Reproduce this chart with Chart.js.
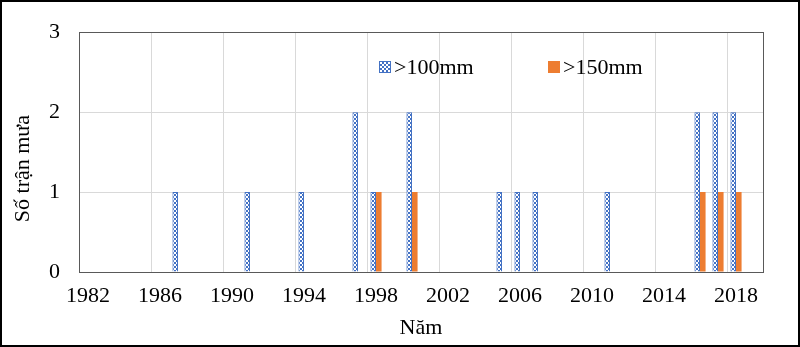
<!DOCTYPE html>
<html>
<head>
<meta charset="utf-8">
<script src="https://cdn.jsdelivr.net/npm/chart.js@4"></script>
<style>
  html, body { margin: 0; padding: 0; background: #fff; }
  #wrap { width: 800px; height: 347px; }
</style>
</head>
<body>
<div id="wrap"><canvas id="rainChart" width="800" height="347"></canvas></div>
<script>
// years on the category axis
const years = [
  1982, 1983, 1984, 1985, 1986, 1987, 1988, 1989, 1990, 1991,
  1992, 1993, 1994, 1995, 1996, 1997, 1998, 1999, 2000, 2001,
  2002, 2003, 2004, 2005, 2006, 2007, 2008, 2009, 2010, 2011,
  2012, 2013, 2014, 2015, 2016, 2017, 2018, 2019
];
// number of rain events per year
const over100 = [
  0, 0, 0, 0, 0, 1, 0, 0, 0, 1,
  0, 0, 1, 0, 0, 2, 1, 0, 2, 0,
  0, 0, 0, 1, 1, 1, 0, 0, 0, 1,
  0, 0, 0, 0, 2, 2, 2, 0
];
const over150 = [
  0, 0, 0, 0, 0, 0, 0, 0, 0, 0,
  0, 0, 0, 0, 0, 0, 1, 0, 1, 0,
  0, 0, 0, 0, 0, 0, 0, 0, 0, 0,
  0, 0, 0, 0, 1, 1, 1, 0
];
const seriesLabels = ['>100mm', '>150mm'];
const yTicks = [0, 1, 2, 3];

const FONT = "'Liberation Serif', 'Times New Roman', serif";
const BLUE = '#4472c4';
const ORANGE = '#ed7d31';
const GRID = '#d9d9d9';

function checkerPattern() {
  const c = document.createElement('canvas');
  c.width = 4;
  c.height = 4;
  const g = c.getContext('2d');
  g.fillStyle = '#fff';
  g.fillRect(0, 0, 4, 4);
  g.fillStyle = BLUE;
  g.fillRect(0, 0, 2, 2);
  g.fillRect(2, 2, 2, 2);
  return g.createPattern(c, 'repeat');
}

// legend sits inside the plot, like the excel original
const legendInPlot = {
  id: 'legendInPlot',
  afterDraw(chart) {
    const ctx = chart.ctx;
    const xs = [379, 548];
    const y = 67;
    ctx.save();
    ctx.font = '22px ' + FONT;
    ctx.textBaseline = 'middle';
    chart.data.datasets.forEach((ds, i) => {
      const x = xs[i];
      ctx.fillStyle = ds.backgroundColor;
      ctx.fillRect(x, y - 6, 12, 12);
      if (ds.borderWidth) {
        ctx.strokeStyle = ds.borderColor;
        ctx.lineWidth = 1;
        ctx.strokeRect(x + 0.5, y - 5.5, 11, 11);
      }
      ctx.fillStyle = '#000';
      ctx.fillText(ds.label, x + 15, y + 1);
    });
    ctx.restore();
  }
};

const frames = {
  id: 'frames',
  afterDraw(chart) {
    const { ctx, chartArea: a } = chart;
    ctx.save();
    ctx.strokeStyle = '#595959';
    ctx.lineWidth = 1;
    ctx.strokeRect(Math.round(a.left) + 0.5, Math.round(a.top) + 0.5,
      Math.round(a.right - a.left), Math.round(a.bottom - a.top));
    ctx.strokeStyle = '#000';
    ctx.lineWidth = 2;
    ctx.strokeRect(1, 1, chart.width - 2, chart.height - 2);
    ctx.restore();
  }
};

new Chart(document.getElementById('rainChart'), {
  type: 'bar',
  data: {
    labels: years,
    datasets: [
      {
        label: seriesLabels[0],
        data: over100.map(v => v || null),
        backgroundColor: checkerPattern(),
        borderColor: BLUE,
        borderWidth: 1,
        categoryPercentage: 0.62,
        barPercentage: 1,
      },
      {
        label: seriesLabels[1],
        data: over150.map(v => v || null),
        backgroundColor: ORANGE,
        borderWidth: 0,
        categoryPercentage: 0.62,
        barPercentage: 1,
      }
    ]
  },
  options: {
    responsive: false,
    animation: false,
    devicePixelRatio: 1,
    layout: { padding: { left: 10, right: 37, top: 29, bottom: 4 } },
    plugins: {
      legend: { display: false },
      tooltip: { enabled: false }
    },
    scales: {
      x: {
        offset: true,
        border: { display: false },
        grid: {
          offset: true,
          drawTicks: false,
          color: c => (c.index % 4 === 0 ? GRID : 'transparent'),
        },
        ticks: {
          autoSkip: false,
          maxRotation: 0,
          padding: 11,
          color: '#000',
          font: { family: FONT, size: 22 },
          callback: (v, i) => (i % 4 === 0 ? String(years[i]) : ''),
        },
        title: {
          display: true,
          text: 'Năm',
          color: '#000',
          font: { family: FONT, size: 22 },
          padding: { top: 0, bottom: 2 },
        },
        afterFit: s => { s.height = 347 - 272 - 4; },
      },
      y: {
        min: 0,
        max: 3,
        border: { display: false },
        grid: { color: GRID, drawTicks: false },
        afterBuildTicks: s => { s.ticks = yTicks.map(v => ({ value: v })); },
        ticks: {
          padding: 19,
          color: '#000',
          font: { family: FONT, size: 22 },
        },
        title: {
          display: true,
          text: 'Số trận mưa      ',
          color: '#000',
          font: { family: FONT, size: 22 },
          padding: { top: 0, bottom: 4 },
        },
        afterFit: s => { s.width = 79 - 10; },
      }
    }
  },
  plugins: [legendInPlot, frames]
});
</script>
</body>
</html>
